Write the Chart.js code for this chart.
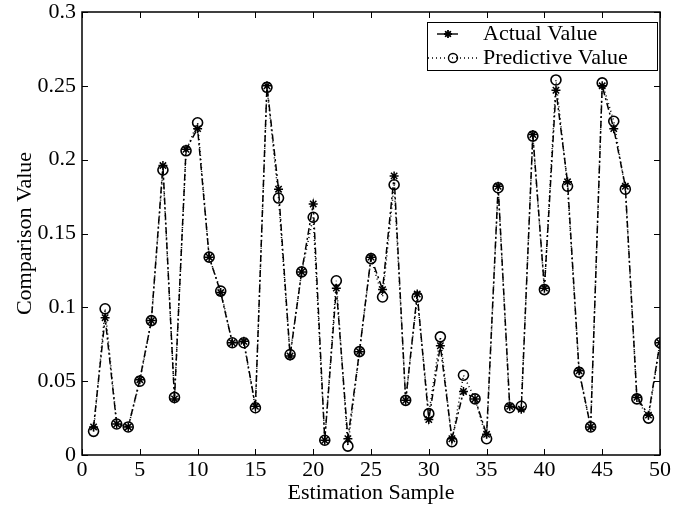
<!DOCTYPE html>
<html>
<head>
<meta charset="utf-8">
<script src="https://cdn.jsdelivr.net/npm/chart.js@4"></script>
<style>
html,body{margin:0;padding:0;background:#fff;}
#wrap{width:675px;height:506px;}
</style>
</head>
<body>
<div id="wrap"><canvas id="c" width="675" height="506"></canvas></div>
<script>
const samples = Array.from({length: 50}, (_, i) => i + 1);
const actualValues = [
  0.019, 0.093, 0.021, 0.019, 0.051, 0.091, 0.196, 0.038, 0.207, 0.221,
  0.134, 0.110, 0.076, 0.077, 0.033, 0.250, 0.180, 0.067, 0.124, 0.170,
  0.010, 0.113, 0.011, 0.070, 0.134, 0.112, 0.189, 0.037, 0.109, 0.024,
  0.074, 0.011, 0.043, 0.038, 0.014, 0.182, 0.033, 0.031, 0.217, 0.113,
  0.247, 0.185, 0.057, 0.019, 0.250, 0.221, 0.182, 0.039, 0.027, 0.076
];
const predictiveValues = [
  0.016, 0.099, 0.021, 0.019, 0.050, 0.091, 0.193, 0.039, 0.206, 0.225,
  0.134, 0.111, 0.076, 0.076, 0.032, 0.249, 0.174, 0.068, 0.124, 0.161,
  0.010, 0.118, 0.006, 0.070, 0.133, 0.107, 0.183, 0.037, 0.107, 0.028,
  0.080, 0.009, 0.054, 0.038, 0.011, 0.181, 0.032, 0.033, 0.216, 0.112,
  0.254, 0.182, 0.056, 0.019, 0.252, 0.226, 0.180, 0.038, 0.025, 0.076
];
const seriesNames = ['Actual Value', 'Predictive Value'];
const xTitle = 'Estimation Sample';
const yTitle = 'Comparison Value';

const FONT = 'Liberation Serif, Times New Roman, serif';

const framePlugin = {
  id: 'frame',
  afterDraw(chart) {
    const ctx = chart.ctx;
    const a = chart.chartArea;
    const xs = chart.scales.x, ys = chart.scales.y;
    ctx.save();
    ctx.strokeStyle = '#000';
    ctx.lineWidth = 1.5;
    ctx.setLineDash([]);
    ctx.strokeRect(a.left, a.top, a.right - a.left, a.bottom - a.top);
    ctx.lineWidth = 1;
    const L = 6;
    xs.ticks.forEach(t => {
      const px = Math.round(xs.getPixelForValue(t.value)) + 0.5;
      ctx.beginPath();
      ctx.moveTo(px, a.bottom); ctx.lineTo(px, a.bottom - L);
      ctx.moveTo(px, a.top); ctx.lineTo(px, a.top + L);
      ctx.stroke();
    });
    ys.ticks.forEach(t => {
      const py = Math.round(ys.getPixelForValue(t.value)) + 0.5;
      ctx.beginPath();
      ctx.moveTo(a.left, py); ctx.lineTo(a.left + L, py);
      ctx.moveTo(a.right, py); ctx.lineTo(a.right - L, py);
      ctx.stroke();
    });
    // legend box
    const bx = 427, by = 22, bw = 230, bh = 48;
    ctx.fillStyle = '#fff';
    ctx.fillRect(bx, by, bw, bh);
    ctx.lineWidth = 1;
    ctx.strokeRect(bx + 0.5, by + 0.5, bw, bh);
    const rows = [by + 12, by + 36];
    ctx.lineWidth = 1.4;
    ctx.beginPath();
    ctx.moveTo(437, rows[0]); ctx.lineTo(458, rows[0]);
    ctx.stroke();
    Chart.helpers.drawPoint(ctx, {pointStyle: 'star', radius: 4, rotation: 0, borderWidth: 1.4}, 448, rows[0]);
    ctx.stroke();
    ctx.setLineDash([1, 3]);
    ctx.beginPath();
    ctx.moveTo(428, rows[1]); ctx.lineTo(478, rows[1]);
    ctx.stroke();
    ctx.setLineDash([]);
    ctx.beginPath();
    ctx.arc(453, rows[1], 4.5, 0, Math.PI * 2);
    ctx.stroke();
    ctx.fillStyle = '#000';
    ctx.font = '22px ' + FONT;
    ctx.textBaseline = 'middle';
    ctx.textAlign = 'left';
    ctx.fillText(seriesNames[0], 483, rows[0]);
    ctx.fillText(seriesNames[1], 483, rows[1]);
    ctx.restore();
  }
};

new Chart(document.getElementById('c'), {
  type: 'line',
  data: {
    labels: samples,
    datasets: [
      {
        label: seriesNames[1],
        data: samples.map((s, i) => ({x: s, y: predictiveValues[i]})),
        borderColor: '#000',
        borderWidth: 1.5,
        borderDash: [1, 3],
        backgroundColor: 'rgba(0,0,0,0)',
        pointStyle: 'circle',
        pointRadius: 5,
        pointBorderWidth: 1.6,
        pointBorderColor: '#000',
        pointBackgroundColor: 'rgba(0,0,0,0)',
        tension: 0,
        fill: false
      },
      {
        label: seriesNames[0],
        data: samples.map((s, i) => ({x: s, y: actualValues[i]})),
        borderColor: '#000',
        borderWidth: 1.5,
        borderDash: [7, 3, 2, 3],
        backgroundColor: '#000',
        pointStyle: 'star',
        pointRadius: 4.5,
        pointBorderWidth: 1.5,
        pointBorderColor: '#000',
        tension: 0,
        fill: false
      }
    ]
  },
  options: {
    responsive: false,
    animation: false,
    devicePixelRatio: 1,
    layout: {padding: {left: 0, right: 15, top: 12, bottom: 0}},
    plugins: {legend: {display: false}, tooltip: {enabled: false}},
    scales: {
      x: {
        type: 'linear', min: 0, max: 50,
        grid: {display: false, drawTicks: false, tickLength: 0},
        border: {display: false},
        ticks: {stepSize: 5, color: '#000', font: {family: FONT, size: 22}, padding: 2, maxRotation: 0},
        title: {display: true, text: xTitle, color: '#000', font: {family: FONT, size: 22}, padding: {top: 0, bottom: 0}},
        afterFit(s) { s.height = 51; s.paddingLeft = 0; s.paddingRight = 0; }
      },
      y: {
        min: 0, max: 0.3,
        grid: {display: false, drawTicks: false, tickLength: 0},
        border: {display: false},
        ticks: {stepSize: 0.05, color: '#000', font: {family: FONT, size: 22}, padding: 6,
          callback: v => String(parseFloat(v.toFixed(2)))},
        title: {display: true, text: yTitle, color: '#000', font: {family: FONT, size: 22}, padding: {top: 12, bottom: 0}},
        afterFit(s) { s.width = 82; s.paddingTop = 0; s.paddingBottom = 0; }
      }
    }
  },
  plugins: [framePlugin]
});
</script>
</body>
</html>
